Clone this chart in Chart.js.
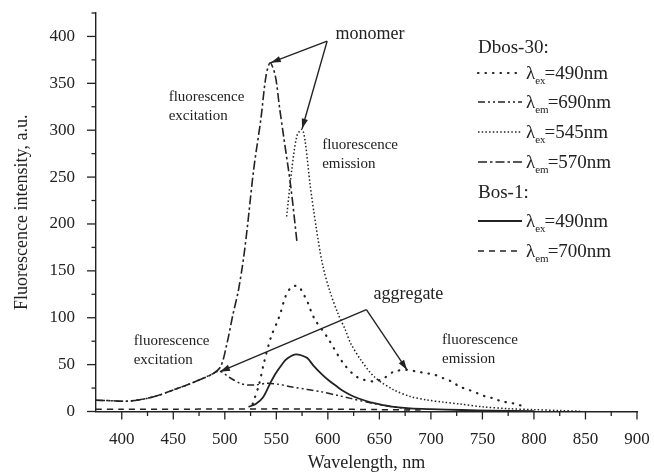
<!DOCTYPE html>
<html>
<head>
<meta charset="utf-8">
<script src="https://cdn.jsdelivr.net/npm/chart.js@4.4.0/dist/chart.umd.min.js"></script>
<style>
  html, body { margin: 0; padding: 0; background: #fff; }
</style>
</head>
<body>
<canvas id="fluoChart" width="654" height="474"></canvas>
<script>
// Dbos-30, lambda_ex = 490 nm (emission, monomer + aggregate)
const ex490X = [527, 533, 538, 545, 551, 554, 559, 564, 568, 572, 577, 581, 584, 588, 599, 615, 628, 644, 655, 664, 677, 686, 695, 704, 712, 720, 728, 737, 745, 753, 761, 769, 777, 785, 793];
const ex490Y = [8, 28, 52, 80, 96, 105, 123, 132, 134, 133, 124, 115, 106, 97, 80, 51.5, 37, 32, 36, 42.5, 44.4, 42.6, 41, 39, 35.5, 32, 26.5, 23, 19.5, 16, 14, 10.5, 9.4, 7, 5];

// Dbos-30, lambda_em = 690 nm (aggregate excitation)
const em690X = [375, 390, 405, 420, 435, 450, 465, 478, 488, 495, 505, 515, 522, 530, 541, 552, 564, 580, 593, 610, 622, 640, 660, 680];
const em690Y = [12, 11.5, 11, 13, 17, 23, 29, 35, 40, 43, 36, 30, 28.3, 28.5, 30, 29, 26.5, 23.5, 21.2, 17, 14, 9.5, 5.5, 2.5];

// Dbos-30, lambda_ex = 545 nm (monomer emission)
const ex545X = [560, 565, 570, 575, 578, 583, 589, 595, 602, 610, 617, 622, 632, 645, 664, 680, 696, 712, 728, 750, 775, 800, 825, 845];
const ex545Y = [208, 258, 294, 301, 288, 240, 194, 156, 128, 104, 87, 73, 55, 37, 23, 16, 12.3, 10, 8, 5, 3, 2, 1, 0.3];

// Dbos-30, lambda_em = 570 nm (monomer excitation)
const em570X = [375, 390, 405, 420, 435, 450, 465, 478, 488, 496, 502, 508, 513, 518, 522, 528, 535, 540, 544, 549, 553, 557, 564, 570];
const em570Y = [12, 11.5, 11, 13, 17, 23, 29, 35, 40, 48, 72, 104, 128, 162, 198, 258, 312, 358, 372, 358, 325, 294, 240, 181];

// Bos-1, lambda_ex = 490 nm
const bosEx490X = [523, 530, 537, 544, 549, 554, 559, 564, 569, 574, 580, 586, 593, 601, 609, 617, 625, 635, 645, 660, 680, 700, 730, 760, 800];
const bosEx490Y = [5, 8, 15, 30, 40, 48, 55, 59, 61, 60, 57, 49, 41, 33, 26.5, 20.5, 16, 12, 8.8, 5.5, 3.4, 2.5, 1.6, 1, 0.5];

// Bos-1, lambda_em = 700 nm
const bosEm700X = [375, 400, 450, 500, 550, 600, 650, 690];
const bosEm700Y = [2.5, 2.5, 2.5, 2.6, 2.8, 2.5, 2, 1.5];

// tick values
const xMajorTicks = [400, 450, 500, 550, 600, 650, 700, 750, 800, 850, 900];
const xMinorTicks = [425, 475, 525, 575, 625, 675, 725, 775, 825, 875];
const yMajorTicks = [0, 50, 100, 150, 200, 250, 300, 350, 400];
const yMinorTicks = [25, 75, 125, 175, 225, 275, 325, 375, 425];

// legend text
const legendGroups = ['Dbos-30:', 'Bos-1:'];
const legendSub = ['ex', 'em', 'ex', 'em', 'ex', 'em'];
const legendNm = ['=490nm', '=690nm', '=545nm', '=570nm', '=490nm', '=700nm'];

const ink = '#222';
const serif = '"Liberation Serif", "Times New Roman", serif';

function pts(xs, ys) {
  return xs.map((x, i) => ({ x: x, y: ys[i] }));
}

// annotations (data units)
const arrowGroups = [
  { label: 'monomer', text: [607.4, 402.7], from: [599.3, 395], to: [[544.6, 372], [575, 301.5]] },
  { label: 'aggregate', text: [644.2, 124.6], from: [637.4, 108.6], to: [[495.3, 42.5], [676.8, 44.4]] }
];
const noteTexts = [
  { lines: ['fluorescence', 'excitation'], at: [445.5, 335.3] },
  { lines: ['fluorescence', 'emission'], at: [594.5, 284] },
  { lines: ['fluorescence', 'excitation'], at: [411.6, 74.7] },
  { lines: ['fluorescence', 'emission'], at: [710.8, 75.7] }
];

function arrowHead(ctx, x0, y0, x1, y1) {
  const a = Math.atan2(y1 - y0, x1 - x0);
  const len = 10, half = 3.2;
  ctx.beginPath();
  ctx.moveTo(x1, y1);
  ctx.lineTo(x1 - len * Math.cos(a) + half * Math.sin(a), y1 - len * Math.sin(a) - half * Math.cos(a));
  ctx.lineTo(x1 - len * Math.cos(a) - half * Math.sin(a), y1 - len * Math.sin(a) + half * Math.cos(a));
  ctx.closePath();
  ctx.fill();
}

const decor = {
  id: 'decor',
  afterDraw(chart) {
    const ctx = chart.ctx;
    const xs = chart.scales.x, ys = chart.scales.y;
    ctx.save();
    ctx.strokeStyle = ink;
    ctx.fillStyle = ink;
    ctx.lineWidth = 1.3;
    ctx.setLineDash([]);

    // tick marks
    const base = ys.getPixelForValue(0);
    const axisX = xs.getPixelForValue(xs.min);
    xMajorTicks.concat(xMinorTicks).forEach(v => {
      const px = xs.getPixelForValue(v);
      const len = xMajorTicks.includes(v) ? 8 : 4.5;
      ctx.beginPath(); ctx.moveTo(px, base); ctx.lineTo(px, base + len); ctx.stroke();
    });
    yMajorTicks.concat(yMinorTicks).forEach(v => {
      const py = ys.getPixelForValue(v);
      const len = yMajorTicks.includes(v) ? 9 : 4.5;
      ctx.beginPath(); ctx.moveTo(axisX, py); ctx.lineTo(axisX - len, py); ctx.stroke();
    });

    // legend
    const rowsY = [48, 74, 103, 133, 163, 193, 222, 252];
    const lx0 = 478, lx1 = 522, tx = 526;
    ctx.textBaseline = 'middle';
    ctx.textAlign = 'left';
    let di = 0;
    rowsY.forEach((ry, r) => {
      ctx.font = '19px ' + serif;
      if (r === 0 || r === 5) {
        ctx.fillText(legendGroups[r === 0 ? 0 : 1], lx0, ry);
        return;
      }
      const ds = chart.data.datasets[di];
      ctx.save();
      ctx.strokeStyle = ds.borderColor;
      ctx.lineWidth = ds.borderWidth;
      ctx.lineCap = ds.borderCapStyle || 'butt';
      ctx.setLineDash(ds.borderDash || []);
      ctx.beginPath(); ctx.moveTo(lx0, ry - 1); ctx.lineTo(lx1, ry - 1); ctx.stroke();
      ctx.restore();
      ctx.fillText('\u03bb', tx, ry);
      const wl = ctx.measureText('\u03bb').width;
      ctx.font = '11px ' + serif;
      ctx.fillText(legendSub[di], tx + wl, ry + 7);
      const ws = ctx.measureText(legendSub[di]).width;
      ctx.font = '19px ' + serif;
      ctx.fillText(legendNm[di], tx + wl + ws - 1, ry);
      di++;
    });

    // arrows + labels
    ctx.lineWidth = 1.4;
    arrowGroups.forEach(g => {
      const fx = xs.getPixelForValue(g.from[0]), fy = ys.getPixelForValue(g.from[1]);
      g.to.forEach(t => {
        const tx1 = xs.getPixelForValue(t[0]), ty1 = ys.getPixelForValue(t[1]);
        ctx.beginPath(); ctx.moveTo(fx, fy); ctx.lineTo(tx1, ty1); ctx.stroke();
        arrowHead(ctx, fx, fy, tx1, ty1);
      });
      ctx.font = '18px ' + serif;
      ctx.fillText(g.label, xs.getPixelForValue(g.text[0]), ys.getPixelForValue(g.text[1]));
    });
    ctx.font = '15px ' + serif;
    noteTexts.forEach(n => {
      const px = xs.getPixelForValue(n.at[0]), py = ys.getPixelForValue(n.at[1]);
      n.lines.forEach((s, i) => ctx.fillText(s, px, py + i * 19));
    });
    ctx.restore();
  }
};

function lineSet(label, data, dash, width, cap) {
  return {
    label: label,
    data: data,
    borderColor: ink,
    borderWidth: width,
    borderDash: dash,
    borderCapStyle: cap || 'butt',
    pointRadius: 0,
    fill: false,
    tension: 0.3
  };
}

new Chart(document.getElementById('fluoChart'), {
  type: 'line',
  data: {
    datasets: [
      lineSet('Dbos-30 ex 490', pts(ex490X, ex490Y), [0.5, 7], 2.2, 'round'),
      lineSet('Dbos-30 em 690', pts(em690X, em690Y), [7, 3, 2, 3, 2, 3], 1.5),
      lineSet('Dbos-30 ex 545', pts(ex545X, ex545Y), [1.5, 2.2], 1.5),
      lineSet('Dbos-30 em 570', pts(em570X, em570Y), [9, 3, 2.5, 3], 1.6),
      lineSet('Bos-1 ex 490', pts(bosEx490X, bosEx490Y), [], 1.8),
      lineSet('Bos-1 em 700', pts(bosEm700X, bosEm700Y), [6, 5], 1.5)
    ]
  },
  options: {
    responsive: false,
    animation: false,
    devicePixelRatio: 1,
    layout: { padding: { left: 0, right: 17, top: 13, bottom: 0 } },
    plugins: { legend: { display: false }, tooltip: { enabled: false } },
    scales: {
      x: {
        type: 'linear',
        min: 375,
        max: 900,
        afterBuildTicks: s => { s.ticks = xMajorTicks.map(v => ({ value: v })); },
        afterFit: s => { s.height = 62.5; s.paddingLeft = 0; s.paddingRight = 0; },
        grid: { display: false },
        border: { display: true, color: ink, width: 1.4 },
        ticks: { color: ink, font: { family: serif, size: 17 }, padding: 10, maxRotation: 0, autoSkip: false },
        title: { display: true, text: 'Wavelength, nm', color: ink, font: { family: serif, size: 18 }, padding: { top: 4, bottom: 0 } }
      },
      y: {
        type: 'linear',
        min: 0,
        max: 425,
        afterBuildTicks: s => { s.ticks = yMajorTicks.map(v => ({ value: v })); },
        afterFit: s => { s.width = 96; s.paddingTop = 0; s.paddingBottom = 0; },
        grid: { display: false },
        border: { display: true, color: ink, width: 1.4 },
        ticks: { color: ink, font: { family: serif, size: 17 }, padding: 13 },
        title: { display: true, text: 'Fluorescence intensity, a.u.', color: ink, font: { family: serif, size: 18 }, padding: { top: 11, bottom: 0 } }
      }
    }
  },
  plugins: [decor]
});
</script>
</body>
</html>
